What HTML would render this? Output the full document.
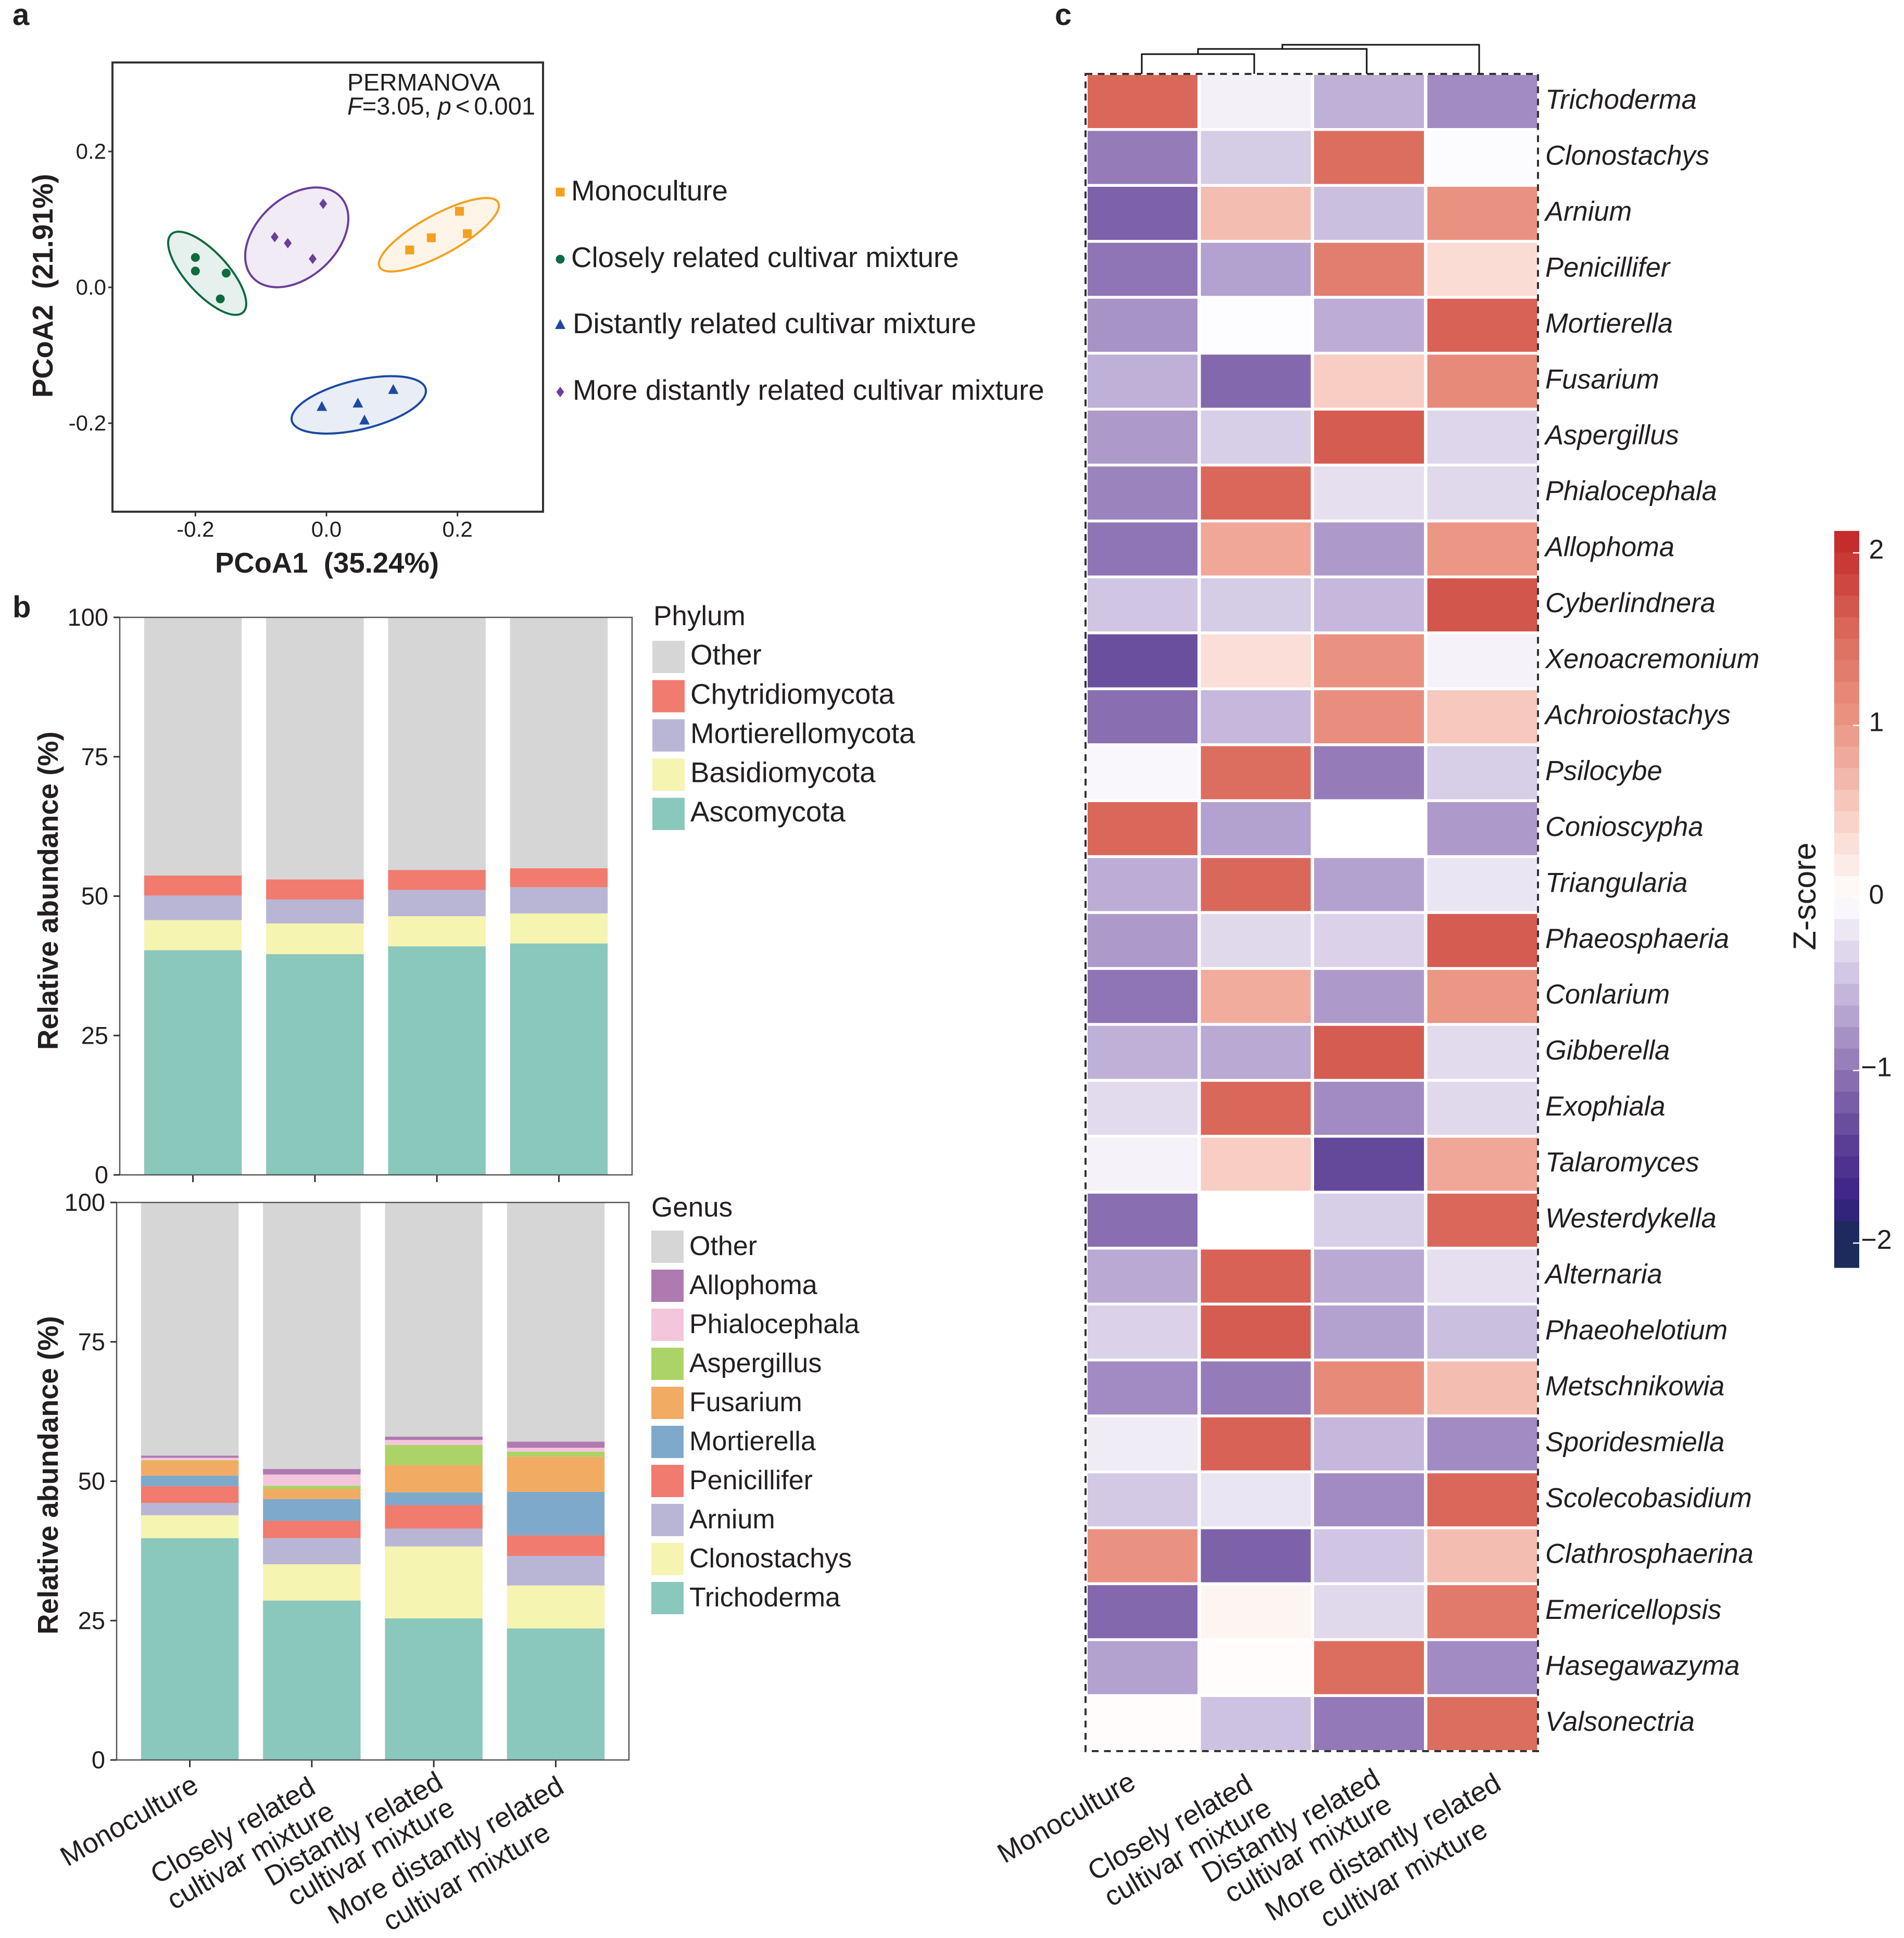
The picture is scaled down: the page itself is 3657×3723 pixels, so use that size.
<!DOCTYPE html>
<html lang="en">
<head>
<meta charset="utf-8">
<title>Fungal community composition across cultivar mixtures</title>
<style>
html,body{margin:0;padding:0;background:#fff;}
svg{display:block;}
text{font-family:"Liberation Sans",Arial,sans-serif;fill:#231f20;}
.b{font-weight:bold;}
.i{font-style:italic;}
</style>
</head>
<body>
<svg id="fig" xmlns="http://www.w3.org/2000/svg" width="3657" height="3723" viewBox="0 0 3657 3723">
<rect x="0" y="0" width="3657" height="3723" fill="#fff"/>
<g id="panelA"></g>
<g id="panelB1"></g>
<g id="panelB2"></g>
<g id="panelC"></g>

<text class="b" x="24" y="48" font-size="58">a</text>
<text class="b" x="24" y="1186" font-size="58">b</text>
<text class="b" x="2026" y="48" font-size="58">c</text>

<text x="667" y="174" font-size="46.5">PERMANOVA</text>
<text x="667" y="220" font-size="47"><tspan class="i">F</tspan>=3.05, <tspan class="i">p</tspan><tspan dx="8">&lt;</tspan><tspan dx="8">0.001</tspan></text>
<text class="b" x="628" y="1100" font-size="54.5" text-anchor="middle" xml:space="preserve">PCoA1  (35.24%)</text>
<text class="b" transform="translate(101,549) rotate(-90)" font-size="54.5" text-anchor="middle" xml:space="preserve">PCoA2  (21.91%)</text>
<text class="b" transform="translate(111,1711) rotate(-90)" font-size="54.5" text-anchor="middle">Relative abundance (%)</text>
<text class="b" transform="translate(111,2834) rotate(-90)" font-size="54.5" text-anchor="middle">Relative abundance (%)</text>
<text x="1255" y="1201" font-size="53">Phylum</text>
<text x="1251" y="2337" font-size="53">Genus</text>
<text transform="translate(3487,1722) rotate(-90)" font-size="61" text-anchor="middle">Z-score</text>
</svg>

<script>
/* ---------- shared ---------- */
const treatments = ["Monoculture", "Closely related cultivar mixture", "Distantly related cultivar mixture", "More distantly related cultivar mixture"];

/* ---------- panel a data ---------- */
const pcoaXTicks = [-0.2, 0, 0.2];
const pcoaYTicks = [0.2, 0, -0.2];
const monoX = [0.127, 0.160, 0.203, 0.215];
const monoY = [0.055, 0.073, 0.112, 0.079];
const closeX = [-0.200, -0.200, -0.153, -0.162];
const closeY = [0.044, 0.024, 0.021, -0.017];
const distantX = [-0.007, 0.048, 0.058, 0.102];
const distantY = [-0.175, -0.170, -0.195, -0.150];
const moreX = [-0.079, -0.059, -0.021, -0.005];
const moreY = [0.074, 0.065, 0.042, 0.123];
const ellipseCenterX = [0.1716, -0.182, 0.0493, -0.0453];
const ellipseCenterY = [0.0774, 0.0207, -0.173, 0.0736];
const ellipseMajor = [0.103, 0.081, 0.105, 0.091];
const ellipseMinor = [0.0305, 0.032, 0.0375, 0.061];
const ellipseTilt = [-28.6, 47.5, -13.4, -42.5];

/* ---------- panel b data ---------- */
const barTicks = [0, 25, 50, 75, 100];
const phylumNames = ["Ascomycota", "Basidiomycota", "Mortierellomycota", "Chytridiomycota", "Other"];
const ascomycota = [40.3, 39.6, 41.0, 41.5];
const basidiomycota = [5.4, 5.5, 5.4, 5.4];
const mortierellomycota = [4.4, 4.3, 4.7, 4.7];
const chytridiomycota = [3.6, 3.6, 3.6, 3.4];
const phylumOther = [46.3, 47.0, 45.3, 45.0];
const genusNames = ["Trichoderma", "Clonostachys", "Arnium", "Penicillifer", "Mortierella", "Fusarium", "Aspergillus", "Phialocephala", "Allophoma", "Other"];
const trichoderma = [39.8, 28.6, 25.4, 23.6];
const clonostachys = [4.1, 6.5, 12.9, 7.7];
const arnium = [2.2, 4.7, 3.2, 5.3];
const penicillifer = [3.0, 3.1, 4.2, 3.7];
const mortierella = [1.9, 3.9, 2.3, 7.8];
const fusarium = [2.7, 1.8, 4.9, 6.3];
const aspergillus = [0.1, 0.6, 3.6, 0.9];
const phialocephala = [0.4, 2.0, 0.9, 0.7];
const allophoma = [0.4, 1.0, 0.6, 1.1];
const genusOther = [45.4, 47.8, 42.0, 42.9];

/* ---------- panel c data ---------- */
const taxa = ["Trichoderma","Clonostachys","Arnium","Penicillifer","Mortierella","Fusarium","Aspergillus","Phialocephala","Allophoma","Cyberlindnera","Xenoacremonium","Achroiostachys","Psilocybe","Conioscypha","Triangularia","Phaeosphaeria","Conlarium","Gibberella","Exophiala","Talaromyces","Westerdykella","Alternaria","Phaeohelotium","Metschnikowia","Sporidesmiella","Scolecobasidium","Clathrosphaerina","Emericellopsis","Hasegawazyma","Valsonectria"];
const zMono = [1.55,-0.95,-1.15,-1.0,-0.8,-0.6,-0.75,-0.9,-1.0,-0.45,-1.3,-1.05,-0.06,1.55,-0.62,-0.75,-1.0,-0.6,-0.28,-0.1,-1.05,-0.65,-0.35,-0.85,-0.15,-0.42,1.05,-1.1,-0.7,0.03];
const zClose = [-0.12,-0.4,0.65,-0.7,-0.02,-1.1,-0.38,1.55,0.85,-0.4,0.33,-0.55,1.5,-0.7,1.55,-0.3,0.8,-0.65,1.55,0.5,0,1.6,1.65,-0.95,1.6,-0.2,-1.15,0.1,0.03,-0.48];
const zDistant = [-0.6,1.5,-0.5,1.3,-0.62,0.5,1.65,-0.25,-0.75,-0.55,1.05,1.1,-0.95,0,-0.7,-0.35,-0.75,1.65,-0.85,-1.35,-0.38,-0.65,-0.7,1.15,-0.55,-0.85,-0.45,-0.3,1.5,-0.97];
const zMore = [-0.85,-0.03,1.05,0.35,1.6,1.15,-0.32,-0.3,1.0,1.7,-0.1,0.55,-0.38,-0.75,-0.2,1.65,1.0,-0.28,-0.3,0.85,1.55,-0.25,-0.5,0.65,-0.85,1.55,0.65,1.35,-0.85,1.5];
const colorbarTicks = [2, 1, 0, -1, -2];
const colorbarLabels = ["2", "1", "0", "\u22121", "\u22122"];
const treeHeights = [0.38, 0.48, 0.56];

/* ---------- helpers ---------- */
const NS = "http://www.w3.org/2000/svg";
function mk(parent, tag, attrs, txt) {
  const el = document.createElementNS(NS, tag);
  for (const k in attrs) el.setAttribute(k, attrs[k]);
  if (txt !== undefined) el.textContent = txt;
  parent.appendChild(el);
  return el;
}
function slug(s) { return s.toLowerCase().replace(/[^a-z0-9]+/g, "-"); }
function fmt(v) { return v.toFixed(1); }

/* ---------- panel a ---------- */
(function () {
  const g = document.getElementById("panelA");
  const L = 216, R = 1043, T = 120, B = 983;
  const xA = v => 627 + v * 1258.5;
  const yA = v => 552 - v * 1305;
  const colors = ["#f5a01e", "#0e6b40", "#1b4aa3", "#6b3e9b"];
  const seriesX = [monoX, closeX, distantX, moreX];
  const seriesY = [monoY, closeY, distantY, moreY];

  ellipseCenterX.forEach((cx, i) => {
    const px = xA(cx), py = yA(ellipseCenterY[i]);
    const e = mk(g, "ellipse", {
      cx: px, cy: py,
      rx: ellipseMajor[i] * 1258.5, ry: ellipseMinor[i] * 1258.5,
      transform: "rotate(" + ellipseTilt[i] + " " + px + " " + py + ")",
      fill: colors[i], "fill-opacity": 0.1, stroke: colors[i], "stroke-width": 4
    });
    
    
  });

  function marker(parent, kind, x, y, color) {
    if (kind === 0) return mk(parent, "rect", { x: x - 8.5, y: y - 8.5, width: 17, height: 17, fill: color });
    if (kind === 1) return mk(parent, "circle", { cx: x, cy: y, r: 8.5, fill: color });
    if (kind === 2) return mk(parent, "polygon", { points: (x - 10) + "," + (y + 9) + " " + (x + 10) + "," + (y + 9) + " " + x + "," + (y - 10), fill: color });
    return mk(parent, "polygon", { points: x + "," + (y - 10) + " " + (x + 7.5) + "," + y + " " + x + "," + (y + 10) + " " + (x - 7.5) + "," + y, fill: color });
  }
  seriesX.forEach((xs, s) => {
    xs.forEach((v, j) => {
      const m = marker(g, s, xA(v), yA(seriesY[s][j]), colors[s]);
      
      
    });
  });

  const fr = mk(g, "rect", { x: L, y: T, width: R - L, height: B - T, fill: "none", stroke: "#333", "stroke-width": 4 });
  
  

  pcoaXTicks.forEach(v => {
    const t = mk(g, "line", { x1: xA(v), x2: xA(v), y1: B, y2: B + 9, stroke: "#333", "stroke-width": 3 });
    
    
    const l = mk(g, "text", { x: xA(v), y: 1031, "font-size": 42, "text-anchor": "middle" }, fmt(v));
    
    
  });
  pcoaYTicks.forEach(v => {
    const t = mk(g, "line", { x1: L - 8, x2: L, y1: yA(v), y2: yA(v), stroke: "#333", "stroke-width": 3 });
    
    
    const l = mk(g, "text", { x: 204, y: yA(v) + 14, "font-size": 42, "text-anchor": "end" }, fmt(v));
    
    
  });

  const legendNames = ["Monoculture", "Closely related cultivar mixture", "Distantly related cultivar mixture", "More distantly related cultivar mixture"];
  const legendY = [369, 498, 623, 753];
  const legendBase = [385, 513, 640, 768];
  const legendX = [1097, 1097, 1100, 1100];
  legendNames.forEach((n, i) => {
    const m = marker(g, i, 1076, legendY[i], colors[i]);
    
    
    const t = mk(g, "text", { x: legendX[i], y: legendBase[i], "font-size": 54.7 }, n);
    
    
  });
})();

/* ---------- panel b ---------- */
function drawStack(g, cfg) {
  const { L, R, T, B, series, names, colors } = cfg;
  const band = (R - L) / 4.2;
  const barW = band * 0.8;
  const xC = i => L + band * (i + 0.6);
  const yS = v => B - v * (B - T) / 100;
  treatments.forEach((tr, i) => {
    let acc = 0;
    series.forEach((vals, s) => {
      const v = vals[i];
      const r = mk(g, "rect", { x: xC(i) - barW / 2, y: yS(acc + v), width: barW, height: yS(acc) - yS(acc + v), fill: colors[s] });
      
      
      acc += v;
    });
    const t = mk(g, "line", { x1: xC(i), x2: xC(i), y1: B, y2: B + 14, stroke: "#333", "stroke-width": 3 });
    
    
  });
  const fr = mk(g, "rect", { x: L, y: T, width: R - L, height: B - T, fill: "none", stroke: "#555", "stroke-width": 2.5 });
  
  
  barTicks.forEach(v => {
    const t = mk(g, "line", { x1: L - 12, x2: L, y1: yS(v), y2: yS(v), stroke: "#333", "stroke-width": 3 });
    
    
    const l = mk(g, "text", { x: L - 22, y: yS(v) + 16, "font-size": 47, "text-anchor": "end" }, String(v));
    
    
  });
  // legend, listed top to bottom in reverse stacking order
  const n = names.length;
  for (let k = 0; k < n; k++) {
    const s = n - 1 - k;
    const y = cfg.legTop + k * cfg.legStep;
    const sw = mk(g, "rect", { x: cfg.legX, y: y, width: 62, height: 62, fill: colors[s] });
    
    
    const tx = mk(g, "text", { x: cfg.legX + 73, y: y + cfg.legBase, "font-size": cfg.legFont }, names[s]);
    
    
  }
}
drawStack(document.getElementById("panelB1"), {
  L: 230, R: 1214, T: 1186, B: 2257,
  series: [ascomycota, basidiomycota, mortierellomycota, chytridiomycota, phylumOther],
  names: phylumNames,
  colors: ["#8ac8bb", "#f5f4b1", "#b9b6d5", "#f07b6e", "#d6d6d6"],
  legX: 1253, legTop: 1231, legStep: 75.4, legBase: 45.5, legFont: 54.7
});
drawStack(document.getElementById("panelB2"), {
  L: 224, R: 1208, T: 2310, B: 3381,
  series: [trichoderma, clonostachys, arnium, penicillifer, mortierella, fusarium, aspergillus, phialocephala, allophoma, genusOther],
  names: genusNames,
  colors: ["#8ac8bb", "#f5f4b1", "#b9b6d5", "#f07b6e", "#7ea9cb", "#f2ab63", "#abd367", "#f4c6dc", "#ae7ab0", "#d6d6d6"],
  legX: 1251, legTop: 2364, legStep: 75, legBase: 47, legFont: 52
});

/* rotated category labels, shared by the genus bars and the heatmap */
function rotatedLabels(g, group, dx, dy) {
  const lines = [
    ["Monoculture", 257, 3513],
    ["Closely related", 456, 3532],
    ["cultivar mixture", 490, 3580],
    ["Distantly related", 688, 3529],
    ["cultivar mixture", 721, 3573],
    ["More distantly related", 865, 3570],
    ["cultivar mixture", 905, 3621]
  ];
  lines.forEach((ln, i) => {
    const t = mk(g, "text", {
      transform: "translate(" + (ln[1] + dx) + "," + (ln[2] + dy) + ") rotate(-30)",
      "font-size": 53.5, "text-anchor": "middle"
    }, ln[0]);
    
    
  });
}
rotatedLabels(document.getElementById("panelB2"), "bar", 0, 0);

/* ---------- panel c ---------- */
(function () {
  const g = document.getElementById("panelC");
  const left = 2089, pitchX = 217.5, cellW = 211;
  const top = 144, pitchY = 107.45, cellH = 102;
  const stops = [[-2.2, [28, 42, 92]], [-1.95, [28, 42, 92]], [-1.75, [58, 33, 134]], [-1.45, [88, 60, 148]], [-1, [143, 117, 181]], [-0.5, [203, 191, 224]], [0, [255, 255, 255]], [0.5, [248, 205, 195]], [1, [236, 150, 134]], [1.5, [220, 110, 95]], [2, [198, 50, 48]], [2.2, [194, 32, 36]]];
  function colour(z) {
    for (let i = 0; i < stops.length - 1; i++) {
      const a = stops[i], b = stops[i + 1];
      if (z <= b[0]) {
        const t = Math.max(0, (z - a[0]) / (b[0] - a[0]));
        return "rgb(" + a[1].map((c, k) => Math.round(c + (b[1][k] - c) * t)).join(",") + ")";
      }
    }
    return "rgb(194,32,36)";
  }
  const columns = [zMono, zClose, zDistant, zMore];
  taxa.forEach((name, r) => {
    columns.forEach((col, c) => {
      const cell = mk(g, "rect", { x: left + c * pitchX, y: top + r * pitchY, width: cellW, height: cellH, fill: colour(col[r]) });
      
      
    });
    const t = mk(g, "text", { class: "i", x: 2968, y: top + r * pitchY + cellH / 2 + 14, "font-size": 52.5 }, name);
    
    
  });
  const fr = mk(g, "rect", { x: 2085, y: 142, width: 869, height: 3364 - 142, fill: "none", stroke: "#333", "stroke-width": 4, "stroke-dasharray": "13 10.5" });
  
  

  /* dendrogram */
  const leafX = c => 2193 + c * 216;
  const treeY = h => 142 - h * 100;
  let curX = leafX(0), curH = 0;
  treeHeights.forEach((h, i) => {
    const rightX = leafX(i + 1);
    const p = mk(g, "path", {
      d: "M" + curX + " " + treeY(curH) + "V" + treeY(h) + "H" + rightX + "V" + treeY(0),
      fill: "none", stroke: "#111", "stroke-width": 3
    });
    
    
    curX = (curX + rightX) / 2;
    curH = h;
  });

  /* colour bar */
  const barL = 3523, barW = 48;
  const zy = z => 1725 - z * 331.5;
  const zHi = 2.127, zLo = -2.142, step = 0.125;
  for (let b = 0; zHi - b * step > zLo; b++) {
    const hi = zHi - b * step;
    const lo = Math.max(zLo, hi - step);
    const s = mk(g, "rect", { x: barL, y: zy(hi), width: barW, height: zy(lo) - zy(hi) + 0.6, fill: colour((hi + lo) / 2) });
    
    
  }
  colorbarTicks.forEach((z, i) => {
    const t = mk(g, "line", { x1: barL + 36, x2: barL + barW, y1: zy(z), y2: zy(z), stroke: "#fff", "stroke-width": 2.5 });
    
    
    const l = mk(g, "text", { x: 3604, y: zy(z) + 11, "font-size": 52, "text-anchor": "middle" }, colorbarLabels[i]);
    
    
  });

  rotatedLabels(g, "heatmap", 1800, -6);
})();
</script>
</body>
</html>
